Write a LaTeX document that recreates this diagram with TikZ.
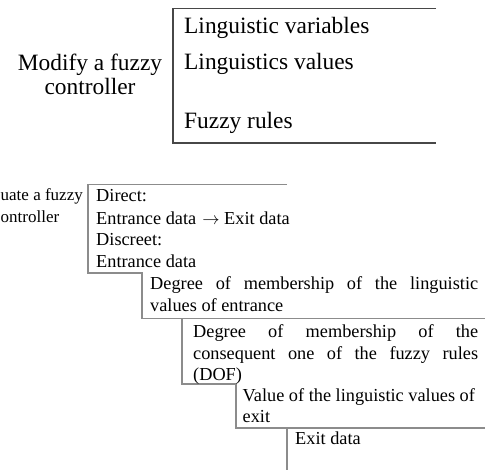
\documentclass[tikz,border=0pt]{standalone}
\usepackage{fontspec}
\setmainfont{Liberation Serif}
\begin{document}
\begin{tikzpicture}[x=1pt,y=-1pt,
  bigtext/.style={font=\fontsize{23.4}{28}\selectfont, inner sep=0pt, anchor=base west},
  bigmid/.style={font=\fontsize{23.4}{28}\selectfont, inner sep=0pt, anchor=base},
  smalltext/.style={font=\fontsize{18.3}{22}\selectfont, inner sep=0pt, anchor=base west},
  sidetext/.style={font=\fontsize{17}{21}\selectfont, inner sep=0pt, anchor=base west},
  boxline/.style={draw=black!72, line width=1.4pt},
  stairline/.style={draw=black!45, line width=1.5pt}]
\useasboundingbox (0,0) rectangle (485,470);
\clip (0,0) rectangle (485,470);

% --- modifying the controller ---
\draw[boxline] (436,8.5) -- (173,8.5) -- (173,143) -- (436,143);
\node[bigmid] (mod1) at (90,71) {Modify a fuzzy};
\node[bigmid] (mod2) at (90,95) {controller};
\node[bigtext] (lvar) at (184,33.3) {Linguistic variables};
\node[bigtext] (lval) at (184,70) {Linguistics values};
\node[bigtext] (frul) at (184,128.3) {Fuzzy rules};

% --- evaluating the controller: staircase of stages ---
\draw[stairline] (287,184.5) -- (88,184.5) -- (88,273) -- (142,273)
  -- (142,318.5) -- (485,318.5);
\draw[stairline] (182,318.5) -- (182,384) -- (236,384) -- (236,428) -- (485,428);
\draw[stairline] (287,428) -- (287,470);

\node[sidetext] (ev1) at (0.5,201) {uate a fuzzy};
\node[sidetext] (ev2) at (0.5,223) {ontroller};

\node[smalltext] (s1a) at (96,201.7) {Direct:};
\node[smalltext] (s1b) at (96,224.5) {Entrance data\hspace{1.5pt} $\rightarrow$ Exit data};
\node[smalltext] (s1c) at (96,246) {Discreet:};
\node[smalltext] (s1d) at (96,268) {Entrance data};

\node[smalltext] (s2a) at (150,290) {\makebox[328pt][s]{Degree of membership of the linguistic}};
\node[smalltext] (s2b) at (150,312) {values of entrance};

\node[smalltext] (s3a) at (193,338) {\makebox[285pt][s]{Degree of membership of the}};
\node[smalltext] (s3b) at (193,359.5) {\makebox[285pt][s]{consequent one of the fuzzy rules}};
\node[smalltext] (s3c) at (193,381) {(DOF)};

\node[smalltext] (s4a) at (242.5,401.7) {Value of the linguistic values of};
\node[smalltext] (s4b) at (242.5,423) {exit};

\node[smalltext] (s5a) at (295,445) {Exit data};
\end{tikzpicture}
\end{document}
